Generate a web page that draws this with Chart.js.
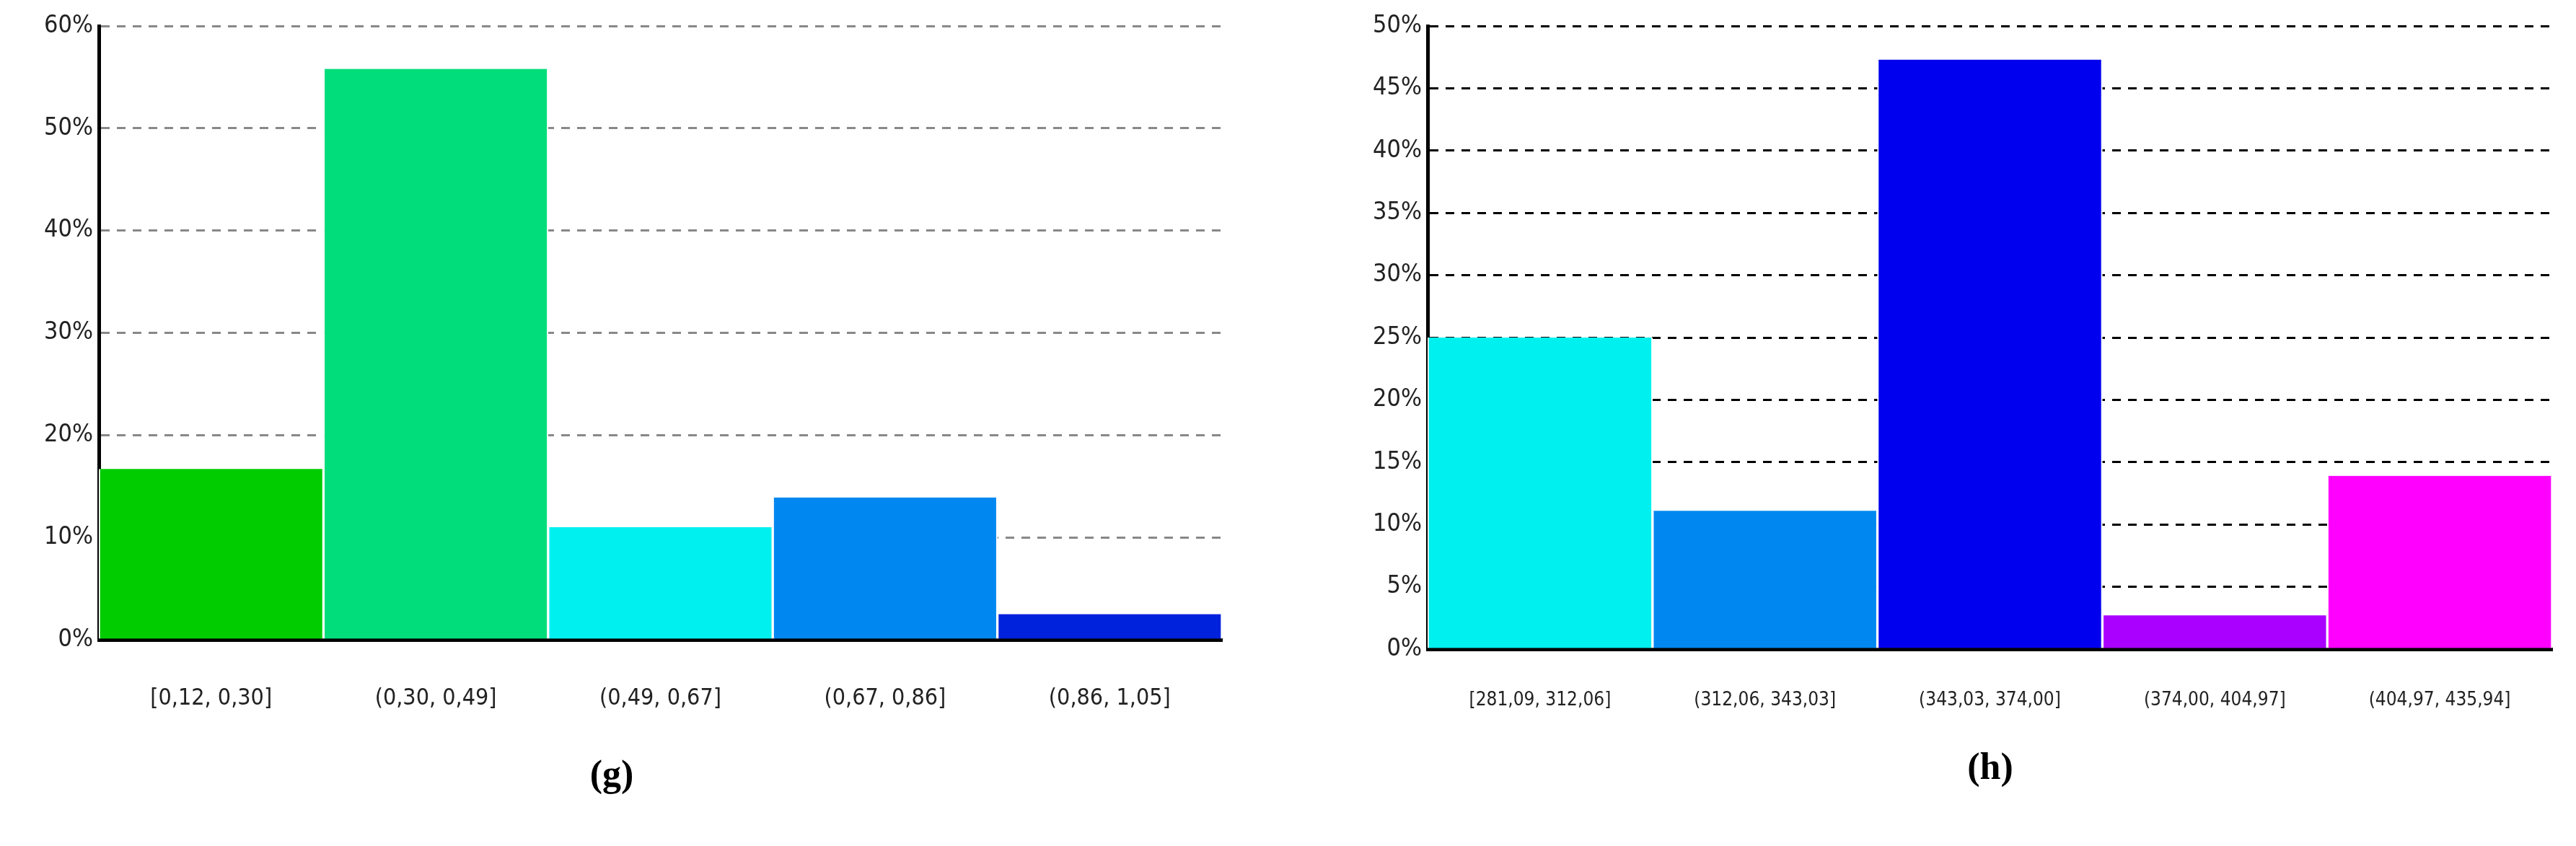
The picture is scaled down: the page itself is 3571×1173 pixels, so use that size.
<!DOCTYPE html>
<html>
<head>
<meta charset="utf-8">
<script src="https://cdn.jsdelivr.net/npm/chart.js@4/dist/chart.umd.min.js"></script>
<style>
  body { margin: 0; background: #fff; width: 3571px; height: 1173px; position: relative; overflow: hidden; }
  .box { position: absolute; top: 0; height: 1000px; }
  .cap { position: absolute; font: bold 52px "Liberation Serif", "DejaVu Serif", serif; transform: translate(-50%, -50%); }
</style>
</head>
<body>
<div class="box" style="left:0;width:1712px"><canvas id="chartG"></canvas></div>
<div class="box" style="left:1800px;width:1740px"><canvas id="chartH"></canvas></div>
<div class="cap" style="left:848px;top:1072px">(g)</div>
<div class="cap" style="left:2759px;top:1062px">(h)</div>
<script>
const labelsG = ["[0,12, 0,30]", "(0,30, 0,49]", "(0,49, 0,67]", "(0,67, 0,86]", "(0,86, 1,05]"];
const valuesG = [16.7, 55.8, 11.0, 13.9, 2.5];
const colorsG = ["#00cc00", "#00dd7a", "#00f0f0", "#0088f0", "#0022dd"];

const labelsH = ["[281,09, 312,06]", "(312,06, 343,03]", "(343,03, 374,00]", "(374,00, 404,97]", "(404,97, 435,94]"];
const valuesH = [25.0, 11.1, 47.3, 2.7, 13.9];
const colorsH = ["#00f0f0", "#0088f0", "#0000ee", "#aa00ff", "#ff00ff"];

const font = "'Liberation Sans Narrow', 'DejaVu Sans Condensed', sans-serif";

const buildChart = (id, labels, values, colors, opts) => new Chart(document.getElementById(id), {
  type: "bar",
  data: {
    labels,
    datasets: [{
      data: values,
      backgroundColor: colors,
      borderColor: "#fff",
      borderWidth: { left: 2, right: 2 },
      barPercentage: 1,
      categoryPercentage: 1
    }]
  },
  options: {
    responsive: true,
    maintainAspectRatio: false,
    animation: false,
    devicePixelRatio: 1,
    layout: { padding: { top: 36, right: opts.right } },
    plugins: { legend: { display: false }, tooltip: { enabled: false } },
    scales: {
      x: {
        grid: { display: false },
        border: { color: "#000", width: 5 },
        ticks: { color: "#222", font: { family: font, size: opts.xSize }, padding: opts.xPad, maxRotation: 0 },
        afterFit: (s) => { s.height = opts.xHeight; }
      },
      y: {
        min: 0,
        max: opts.max,
        ticks: { stepSize: opts.step, color: "#222", font: { family: font, size: 34 }, padding: 8, callback: (v) => v + "%" },
        grid: { color: opts.grid, lineWidth: 3, drawTicks: false },
        border: { color: "#000", width: 5, dash: [12, 10] },
        afterFit: (s) => { s.width = opts.yWidth; }
      }
    }
  }
});

// border.dash applies to grid lines in v4; the axis line itself stays solid
buildChart("chartG", labelsG, valuesG, colorsG, { max: 60, step: 10, grid: "#888", right: 18, xSize: 32, xPad: 54, xHeight: 113, yWidth: 137 });
buildChart("chartH", labelsH, valuesH, colorsH, { max: 50, step: 5, grid: "#000", right: 2, xSize: 26, xPad: 48, xHeight: 100, yWidth: 179 });
</script>
</body>
</html>
